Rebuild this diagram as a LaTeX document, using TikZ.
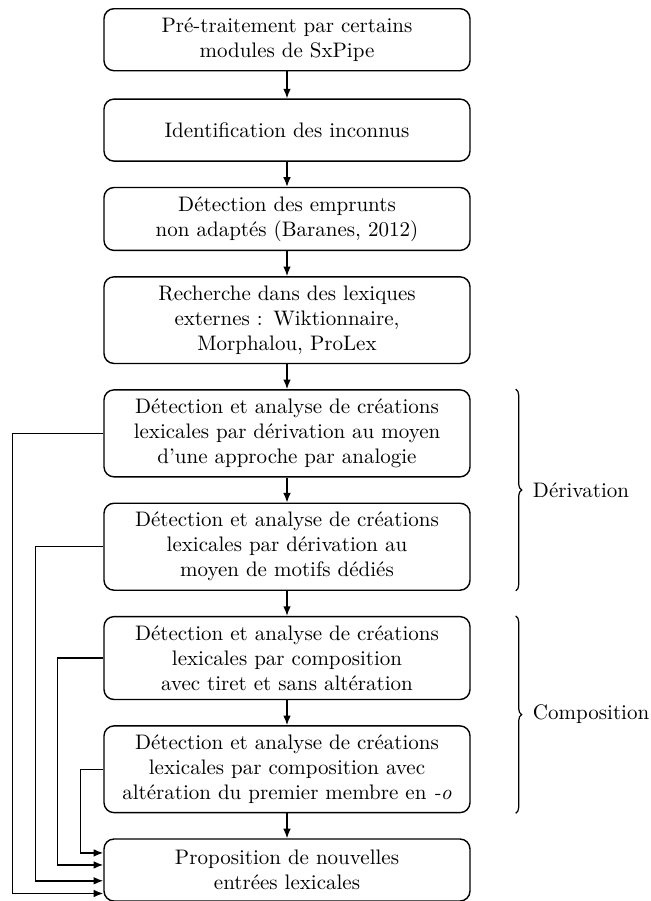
\documentclass[tikz,border=0pt]{standalone}
\usepackage{tikz}
\usetikzlibrary{arrows.meta, positioning, calc, decorations.pathreplacing}

\begin{document}
\begin{tikzpicture}[
    stage/.style={rectangle, rounded corners=5pt, draw=black, line width=0.7pt,
                  text width=173pt, inner xsep=5pt, inner ysep=4.5pt,
                  minimum height=31pt, align=center,
                  font=\fontsize{10.5}{12.5}\selectfont},
    arrow/.style={-{Latex[length=4.8pt, width=3.8pt]}, line width=0.7pt, black},
    group/.style={decorate, decoration={brace, amplitude=3pt}, line width=0.6pt},
    node distance=12.5pt
  ]
    \useasboundingbox (0,0) rectangle (325pt,-450.5pt);
    \node[stage, anchor=north] (pre) at (143.5pt,-4pt) {Pré-traitement par certains\\modules de SxPipe};
    \node[stage, below=13.5pt of pre] (unk) {Identification des inconnus};
    \node[stage, below=of unk] (emp) {Détection des emprunts\\non adaptés (Baranes, 2012)};
    \node[stage, below=of emp] (lex) {Recherche dans des lexiques\\externes : Wiktionnaire,\\Morphalou, ProLex};
    \node[stage, below=of lex] (dana) {Détection et analyse de créations\\lexicales par dérivation au moyen\\d’une approche par analogie};
    \node[stage, below=of dana] (dmot) {Détection et analyse de créations\\lexicales par dérivation au\\moyen de motifs dédiés};
    \node[stage, below=of dmot] (ctir) {Détection et analyse de créations\\lexicales par composition\\avec tiret et sans altération};
    \node[stage, below=of ctir] (calt) {Détection et analyse de créations\\lexicales par composition avec\\altération du premier membre en \textit{-o}};
    \node[stage, below=of calt] (prop) {Proposition de nouvelles\\entrées lexicales};
    % main chain
    \draw[arrow] (pre) -- (unk);
    \draw[arrow] (unk) -- (emp);
    \draw[arrow] (emp) -- (lex);
    \draw[arrow] (lex) -- (dana);
    \draw[arrow] (dana) -- (dmot);
    \draw[arrow] (dmot) -- (ctir);
    \draw[arrow] (ctir) -- (calt);
    \draw[arrow] (calt) -- (prop);
    % results sent straight to the proposal step
    \draw[arrow] (dana.west) -- ++(-45.5pt,0) |- ($(prop.north west)!0.87!(prop.south west)$);
    \draw[arrow] (dmot.west) -- ++(-34pt,0) |- ($(prop.north west)!0.67!(prop.south west)$);
    \draw[arrow] (ctir.west) -- ++(-23pt,0) |- ($(prop.north west)!0.42!(prop.south west)$);
    \draw[arrow] (calt.west) -- ++(-11.5pt,0) |- ($(prop.north west)!0.23!(prop.south west)$);
    % braces
    \draw[group] ([xshift=22.5pt]dana.north east) -- ([xshift=22.5pt]dmot.south east)
      node[midway, right=5pt, font=\fontsize{10.5}{12.5}\selectfont] (der) {Dérivation};
    \draw[group] ([xshift=22.5pt]ctir.north east) -- ([xshift=22.5pt]calt.south east)
      node[midway, right=5pt, font=\fontsize{10.5}{12.5}\selectfont] (com) {Composition};
  \end{tikzpicture}
\end{document}
